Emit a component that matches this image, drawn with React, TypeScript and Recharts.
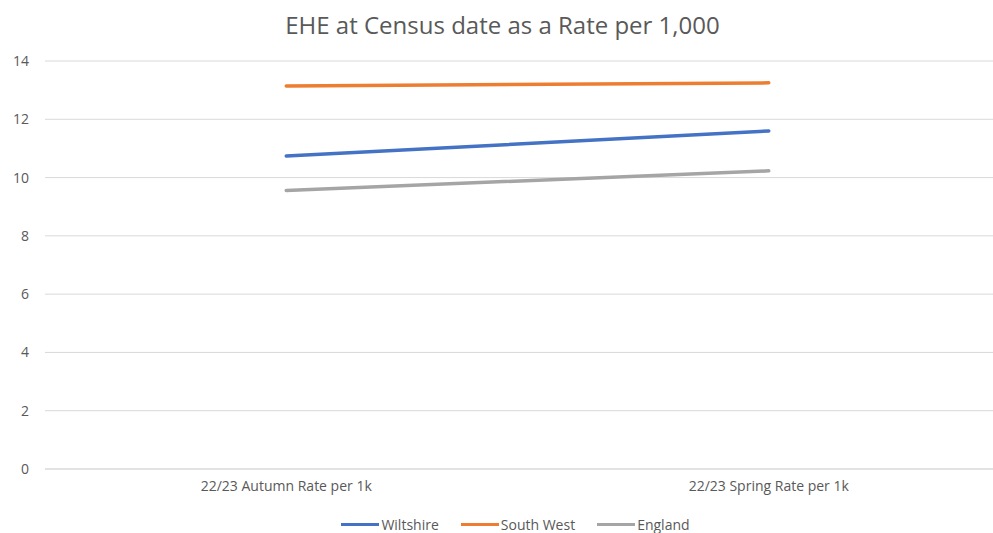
import * as React from "react";
import { LineChart, Line, XAxis, YAxis, CartesianGrid, Legend } from "recharts";

const categories = ["22/23 Autumn Rate per 1k", "22/23 Spring Rate per 1k"];
const wiltshire = [10.74, 11.6];
const southWest = [13.14, 13.25];
const england = [9.56, 10.23];
const yTicks = [0, 2, 4, 6, 8, 10, 12, 14];

const seriesList = [
    { key: "Wiltshire", color: "#4472C4" },
    { key: "South West", color: "#ED7D31" },
    { key: "England", color: "#A5A5A5" },
];

const data = categories.map((name, i) => ({
    name,
    Wiltshire: wiltshire[i],
    "South West": southWest[i],
    England: england[i],
}));

const FONT = "'Open Sans', sans-serif";
const TEXT = "#595959";

const LegendContent = () => (
    <div style={{ display: "flex", justifyContent: "center", fontFamily: FONT, fontSize: 14, color: TEXT }}>
        {seriesList.map((s) => (
            <div key={s.key} style={{ display: "flex", alignItems: "center", margin: "0 11px" }}>
                <span style={{ display: "inline-block", width: 38, height: 3, background: s.color, marginRight: 2 }} />
                <span>{s.key}</span>
            </div>
        ))}
    </div>
);

const App = () => {
    return <div style={{ position: "absolute", left: 0, top: 0, width: 993, height: 533, overflow: "hidden", background: "#fff" }}>
        <div style={{ position: "absolute", left: 0, top: 8, width: 1005, textAlign: "center", fontFamily: FONT, fontSize: 24, color: TEXT }}>
            EHE at Census date as a Rate per 1,000
        </div>
        <LineChart width={1010} height={533} data={data} margin={{ top: 61, right: 0, left: 0, bottom: 0 }}>
            <CartesianGrid vertical={false} stroke="#d9d9d9" />
            <XAxis dataKey="name" scale="band" axisLine={{ stroke: "#d9d9d9" }} tickLine={false} tickSize={0} tickMargin={12} height={28}
                tick={{ fill: TEXT, fontSize: 14, fontFamily: FONT }} />
            <YAxis domain={[0, 14]} ticks={yTicks} axisLine={false} tickLine={false} tickSize={0} tickMargin={16} width={45}
                tick={{ fill: TEXT, fontSize: 14, fontFamily: FONT }} />
            <Legend verticalAlign="bottom" height={36} content={<LegendContent />} wrapperStyle={{ width: 993, left: 19, top: 515 }} />
            {seriesList.map((s) => (
                <Line key={s.key} dataKey={s.key} stroke={s.color} strokeWidth={3.5} dot={false} strokeLinecap="round" isAnimationActive={false} />
            ))}
        </LineChart>
    </div>;
};

export default App;
